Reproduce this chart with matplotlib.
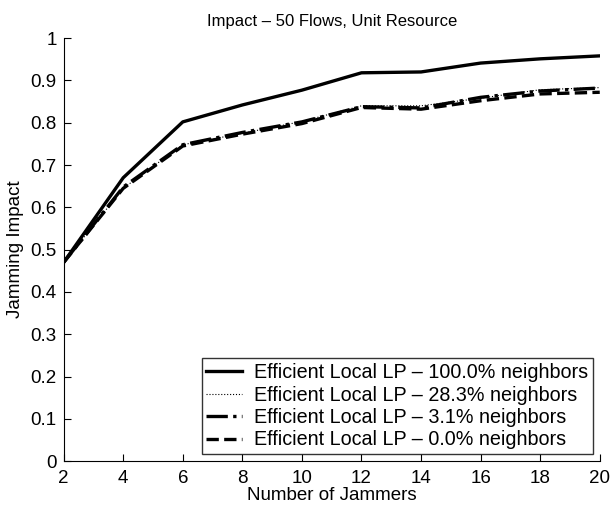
import matplotlib
matplotlib.use("Agg")
import matplotlib.pyplot as plt

plt.rcParams['font.family'] = ['Liberation Sans', 'DejaVu Sans']

jammers = [2, 4, 6, 8, 10, 12, 14, 16, 18, 20]
impact_100 = [0.47, 0.670, 0.802, 0.842, 0.877, 0.918, 0.920, 0.941, 0.951, 0.958]
impact_28 = [0.47, 0.645, 0.748, 0.775, 0.803, 0.840, 0.840, 0.858, 0.878, 0.883]
impact_3 = [0.47, 0.648, 0.748, 0.777, 0.802, 0.838, 0.835, 0.860, 0.875, 0.882]
impact_0 = [0.47, 0.645, 0.745, 0.773, 0.798, 0.836, 0.832, 0.852, 0.868, 0.872]

labels = ["Efficient Local LP \u2013 100.0% neighbors",
          "Efficient Local LP \u2013 28.3% neighbors",
          "Efficient Local LP \u2013 3.1% neighbors",
          "Efficient Local LP \u2013 0.0% neighbors"]

fig = plt.figure(figsize=(6.12, 5.08), dpi=100)
ax = fig.add_axes([0.104, 0.092, 0.876, 0.833])

ax.plot(jammers, impact_100, '-', color='black', lw=2.4, label=labels[0])
ax.plot(jammers, impact_28, ':', color='black', lw=0.8, label=labels[1])
ax.plot(jammers, impact_3, '-.', color='black', lw=2.4, label=labels[2])
ax.plot(jammers, impact_0, '--', color='black', lw=2.4, label=labels[3])

ax.set_xlim(2, 20)
ax.set_ylim(0, 1)
ax.set_xticks(range(2, 21, 2))
ax.set_yticks([i / 10 for i in range(11)])
ax.set_yticklabels(['0', '0.1', '0.2', '0.3', '0.4', '0.5', '0.6', '0.7', '0.8', '0.9', '1'])
ax.tick_params(direction='in', labelsize=13.5, length=5)
ax.tick_params(axis='x', pad=6)
ax.tick_params(axis='y', pad=5)
ax.spines['top'].set_visible(False)
ax.spines['right'].set_visible(False)
for lbl in ax.get_yticklabels():
    lbl.set_verticalalignment('center_baseline')

ax.set_xlabel("Number of Jammers", fontsize=13.5, labelpad=0)
ax.set_ylabel("Jamming Impact", fontsize=13.5, labelpad=5)
ax.set_title("Impact \u2013 50 Flows, Unit Resource", fontsize=12, pad=9)

leg = ax.legend(loc='lower right', fontsize=14.2, frameon=True, fancybox=False,
                edgecolor='black', handlelength=1.8, handletextpad=0.6,
                borderpad=0.25, labelspacing=0.17, borderaxespad=0.35)
leg.get_frame().set_linewidth(1.0)

fig.savefig("out.png", dpi=100)
